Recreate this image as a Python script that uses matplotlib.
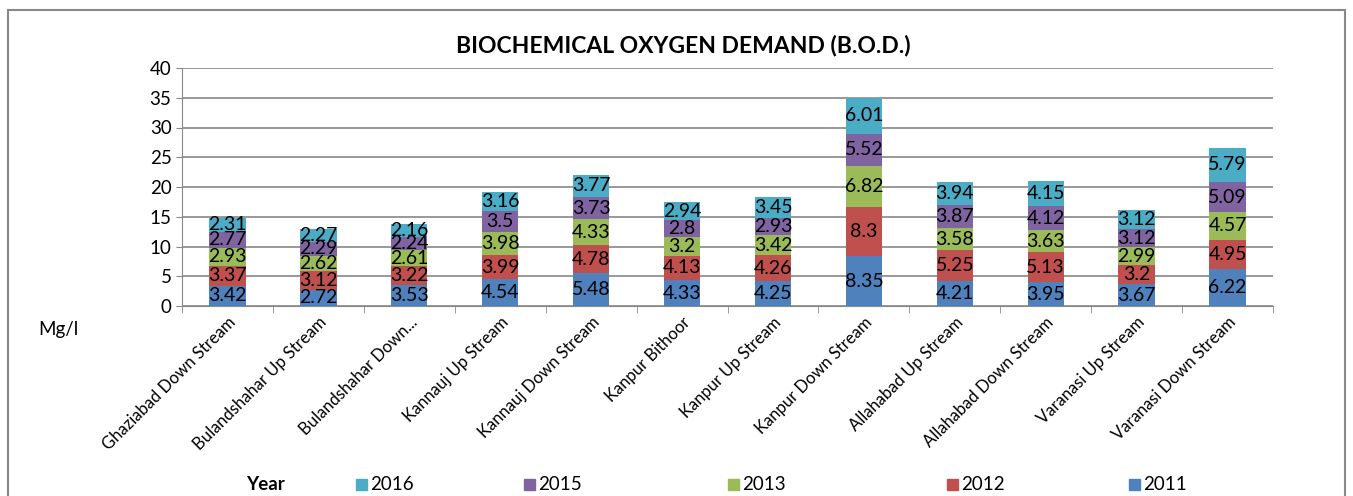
import matplotlib.pyplot as plt
from matplotlib.patches import Rectangle
import numpy as np

# data
stations = ["Ghaziabad Down Stream", "Bulandshahar Up Stream", "Bulandshahar Down...",
            "Kannauj Up Stream", "Kannauj Down Stream", "Kanpur Bithoor",
            "Kanpur Up Stream", "Kanpur Down Stream", "Allahabad Up Stream",
            "Allahabad Down Stream", "Varanasi Up Stream", "Varanasi Down Stream"]
y2011 = [3.42, 2.72, 3.53, 4.54, 5.48, 4.33, 4.25, 8.35, 4.21, 3.95, 3.67, 6.22]
y2012 = [3.37, 3.12, 3.22, 3.99, 4.78, 4.13, 4.26, 8.3, 5.25, 5.13, 3.2, 4.95]
y2013 = [2.93, 2.62, 2.61, 3.98, 4.33, 3.2, 3.42, 6.82, 3.58, 3.63, 2.99, 4.57]
y2015 = [2.77, 2.29, 2.24, 3.5, 3.73, 2.8, 2.93, 5.52, 3.87, 4.12, 3.12, 5.09]
y2016 = [2.31, 2.27, 2.16, 3.16, 3.77, 2.94, 3.45, 6.01, 3.94, 4.15, 3.12, 5.79]

series = [("2011", y2011, "#4F81BD"), ("2012", y2012, "#C0504D"),
          ("2013", y2013, "#9BBB59"), ("2015", y2015, "#8064A2"),
          ("2016", y2016, "#4BACC6")]

plt.rcParams['font.family'] = ['Lato', 'DejaVu Sans']

fig = plt.figure(figsize=(13.53, 4.96), dpi=100)
ax = fig.add_axes([182/1353, 1 - 306/496, (1273-182)/1353, (306-68)/496])

x = np.arange(len(stations))
bottom = np.zeros(len(stations))
for name, vals, col in series:
    ax.bar(x, vals, 0.4, bottom=bottom, color=col, zorder=3)
    for xi, b, v in zip(x, bottom, vals):
        ax.text(xi, b + v / 2, str(v), ha='center', va='center', fontsize=14, zorder=4)
    bottom += np.array(vals)

ax.set_xlim(-0.5, len(stations) - 0.5)
ax.set_ylim(0, 40)
ax.set_yticks(range(0, 41, 5))
ax.tick_params(axis='y', labelsize=13.5, length=4, color='#888888')
ax.yaxis.grid(True, color='#888888', linewidth=1.2, zorder=0)
ax.set_xticks(x)
ax.set_xticklabels(stations, rotation=45, ha='right', rotation_mode='anchor', fontsize=12)
ax.tick_params(axis='x', length=0, pad=6)
ax.set_xticks(np.arange(-0.5, len(stations), 1), minor=True)
ax.tick_params(axis='x', which='minor', length=5, color='#888888')
for s in ['top', 'right']:
    ax.spines[s].set_visible(False)
ax.spines['left'].set_color('#888888')
ax.spines['bottom'].set_color('#888888')

fig.text(683/1353, 1 - 45/496, "BIOCHEMICAL OXYGEN DEMAND (B.O.D.)", ha='center', va='center',
         fontsize=16.5, fontweight='bold')
fig.text(38/1353, 1 - 329/496, "Mg/l", ha='left', va='center', fontsize=13.5)

# legend
fig.text(265/1353, 1 - 485/496, "Year", ha='center', va='center', fontsize=13.5, fontweight='bold')
leg_x = [356, 524, 728, 947, 1129]
for (name, vals, col), lx in zip(series[::-1], leg_x):
    fig.patches.append(Rectangle((lx/1353, 1 - 490/496), 11/1353, 11/496, color=col,
                                 transform=fig.transFigure, figure=fig))
    fig.text((lx + 14)/1353, 1 - 484/496, name, ha='left', va='center', fontsize=13.5)

# outer frame
fig.patches.append(Rectangle((8/1353, -0.05), (1345-8)/1353, 1.05 - 10/496, fill=False,
                             edgecolor='#888888', linewidth=1.5,
                             transform=fig.transFigure, figure=fig))

fig.savefig("out.png", dpi=100)
